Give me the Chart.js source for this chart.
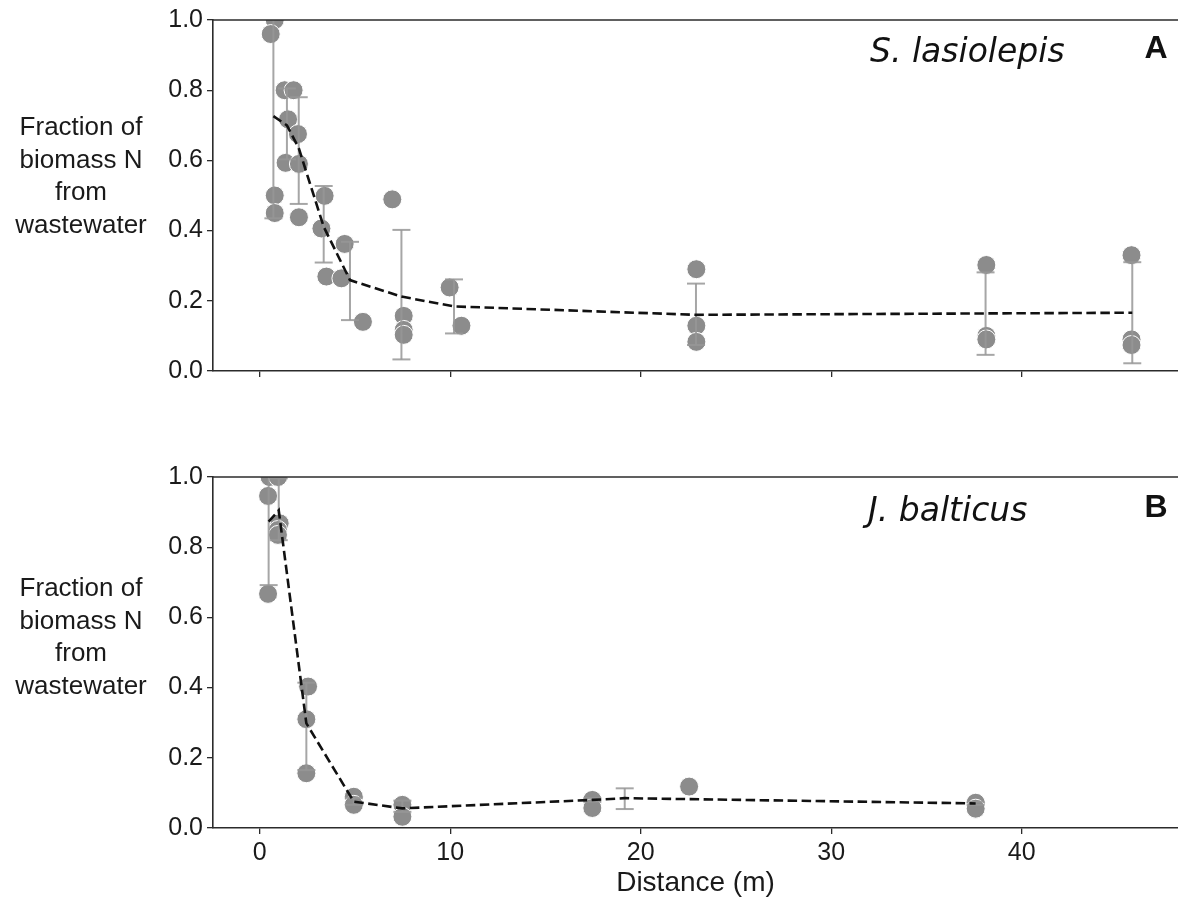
<!DOCTYPE html>
<html>
<head>
<meta charset="utf-8">
<script src="https://cdn.jsdelivr.net/npm/chart.js@4.4.1/dist/chart.umd.min.js"></script>
<style>
  html, body { margin: 0; padding: 0; background: #ffffff; }
  #wrap { position: relative; width: 1178px; height: 901px; overflow: hidden; }
  canvas { position: absolute; left: 0; }
  #panelA { top: 0; }
  #panelB { top: 440px; }
</style>
</head>
<body>
<div id="wrap">
  <canvas id="panelA" width="1178" height="400"></canvas>
  <canvas id="panelB" width="1178" height="461"></canvas>
</div>
<script>
// ---- Tick labels ----
const distanceTicks = [0, 10, 20, 30, 40];
const fractionTicks = [0.0, 0.2, 0.4, 0.6, 0.8, 1.0];
const yLabelLines = ['Fraction of', 'biomass N', 'from', 'wastewater'];
const xLabel = 'Distance (m)';

// ---- Panel A: S. lasiolepis ----
const aSampleDist = [0.79, 0.58, 0.79, 0.79, 1.31, 1.78, 1.49, 2.01, 1.36, 2.06, 2.06,
                     3.41, 3.24, 3.50, 4.46, 4.29, 5.42, 6.96, 7.56, 7.56, 7.56,
                     9.97, 10.59, 22.92, 22.92, 22.92, 38.14, 38.14, 38.14, 45.76, 45.76, 45.76];
const aSampleFrac = [1.00, 0.96, 0.50, 0.45, 0.80, 0.80, 0.717, 0.675, 0.593, 0.59, 0.438,
                     0.499, 0.406, 0.269, 0.362, 0.264, 0.140, 0.489, 0.157, 0.117, 0.103,
                     0.238, 0.129, 0.29, 0.129, 0.083, 0.302, 0.10, 0.09, 0.33, 0.09, 0.074];
const aGroupDist = [0.72, 1.43, 2.05, 3.36, 4.74, 7.44, 10.2, 22.9, 38.1, 45.8];
const aGroupMean = [0.726, 0.70, 0.635, 0.411, 0.259, 0.212, 0.184, 0.16, 0.164, 0.166];
const aGroupLow  = [0.435, 0.603, 0.476, 0.309, 0.145, 0.033, 0.107, 0.074, 0.046, 0.022];
const aGroupHigh = [1.017, 0.805, 0.78, 0.527, 0.368, 0.402, 0.261, 0.249, 0.281, 0.31];

// ---- Panel B: J. balticus ----
const bSampleDist = [0.52, 0.96, 0.44, 1.05, 0.96, 0.96, 0.44, 2.54, 2.45, 2.45,
                     4.94, 4.94, 7.49, 7.49, 17.46, 17.46, 22.54, 37.58, 37.58];
const bSampleFrac = [1.00, 1.00, 0.946, 0.868, 0.849, 0.835, 0.667, 0.403, 0.31, 0.156,
                     0.089, 0.066, 0.066, 0.032, 0.08, 0.057, 0.118, 0.072, 0.055];
const bGroupDist = [0.47, 1.0, 2.45, 4.94, 7.49, 17.46, 19.16, 37.58];
const bGroupMean = [0.873, 0.905, 0.298, 0.075, 0.056, 0.08, 0.085, 0.07];
const bGroupLow  = [0.692, 0.82, 0.165, 0.066, 0.046, 0.075, 0.054, 0.066];
const bGroupHigh = [1.054, 0.996, 0.414, 0.086, 0.078, 0.085, 0.113, 0.075];

// ---- Styling ----
const SANS = '"Liberation Sans", Arial, sans-serif';
const AXIS_COLOR = '#2b2b2b';
const POINT_COLOR = '#8c8c8c';
const ERR_COLOR = 'rgba(150,150,150,0.85)';
const X_MIN = -2.45, X_MAX = 48.2;

function toXY(xs, ys) {
  return xs.map((x, i) => ({ x: x, y: ys[i] }));
}

// vertical whiskers separated by gaps; the 'line' point style gives the caps
function whiskers(xs, lows, highs) {
  const out = [];
  xs.forEach((x, i) => {
    out.push({ x: x, y: lows[i] });
    out.push({ x: x, y: highs[i] });
    out.push({ x: x, y: null });
  });
  return out;
}

// axes frame decorations, multi-line y label and panel captions
const panelDecor = {
  id: 'panelDecor',
  afterDraw(chart, args, opts) {
    const { ctx, chartArea } = chart;
    ctx.save();
    // top spine
    ctx.strokeStyle = AXIS_COLOR;
    ctx.lineWidth = 1.6;
    ctx.beginPath();
    ctx.moveTo(chartArea.left - 0.8, chartArea.top);
    ctx.lineTo(chartArea.right, chartArea.top);
    ctx.stroke();
    // y label
    ctx.fillStyle = '#1a1a1a';
    ctx.font = '26px ' + SANS;
    ctx.textAlign = 'center';
    ctx.textBaseline = 'middle';
    yLabelLines.forEach((line, i) => {
      ctx.fillText(line, 81, chartArea.top + opts.labelOffset + i * 32.5);
    });
    // species name
    ctx.font = 'italic 33px "DejaVu Sans"';
    ctx.textAlign = 'left';
    ctx.textBaseline = 'alphabetic';
    ctx.fillStyle = '#111111';
    ctx.fillText(opts.species, opts.speciesX, chartArea.top + opts.speciesBase);
    // panel letter
    ctx.font = 'bold 32px ' + SANS;
    ctx.textAlign = 'center';
    ctx.fillText(opts.letter, 1156, chartArea.top + opts.letterBase);
    ctx.restore();
  }
};

function makePanel(canvasId, cfg) {
  const H = document.getElementById(canvasId).height;
  return new Chart(document.getElementById(canvasId), {
    type: 'scatter',
    data: {
      datasets: [
        {
          label: 'mean',
          data: toXY(cfg.groupDist, cfg.groupMean),
          showLine: true,
          borderColor: '#111111',
          borderWidth: 2.6,
          borderDash: [9.5, 4.5],
          pointRadius: 0,
          tension: 0
        },
        {
          label: 'sd',
          data: whiskers(cfg.groupDist, cfg.groupLow, cfg.groupHigh),
          showLine: true,
          spanGaps: false,
          borderColor: ERR_COLOR,
          borderWidth: 2,
          pointStyle: 'line',
          pointRadius: 9,
          pointBorderColor: ERR_COLOR,
          pointBorderWidth: 2
        },
        {
          label: 'samples',
          data: toXY(cfg.sampleDist, cfg.sampleFrac),
          pointRadius: 9.5,
          pointBackgroundColor: POINT_COLOR,
          pointBorderColor: '#ffffff',
          pointBorderWidth: 1
        }
      ]
    },
    options: {
      responsive: false,
      animation: false,
      events: [],
      layout: { autoPadding: false, padding: { top: cfg.padTop, left: 0, right: 0, bottom: 0 } },
      plugins: {
        legend: { display: false },
        tooltip: { enabled: false },
        panelDecor: {
          species: cfg.species, speciesX: cfg.speciesX, speciesBase: cfg.speciesBase,
          letter: cfg.letter, letterBase: cfg.letterBase, labelOffset: cfg.labelOffset
        }
      },
      scales: {
        x: {
          type: 'linear',
          min: X_MIN,
          max: X_MAX,
          afterBuildTicks(scale) { scale.ticks = distanceTicks.map(v => ({ value: v })); },
          afterFit(scale) { scale.height = H - cfg.bottomY; },
          border: { display: true, color: AXIS_COLOR, width: 1.6 },
          grid: { display: true, drawOnChartArea: false, drawTicks: true, tickLength: 6,
                  color: AXIS_COLOR, lineWidth: 1.3 },
          ticks: {
            display: cfg.showXLabels,
            color: '#1a1a1a',
            font: { family: SANS, size: 25 },
            padding: 4,
            maxRotation: 0,
            callback: v => String(v)
          },
          title: {
            display: cfg.showXLabels,
            text: xLabel,
            color: '#1a1a1a',
            font: { family: SANS, size: 28 },
            padding: { top: 0, bottom: 1 }
          }
        },
        y: {
          type: 'linear',
          min: 0,
          max: 1,
          afterBuildTicks(scale) { scale.ticks = fractionTicks.map(v => ({ value: v })); },
          afterFit(scale) { scale.width = 213; },
          border: { display: true, color: AXIS_COLOR, width: 1.6 },
          grid: { display: true, drawOnChartArea: false, drawTicks: true, tickLength: 6,
                  color: AXIS_COLOR, lineWidth: 1.3 },
          ticks: {
            color: '#1a1a1a',
            font: { family: SANS, size: 25 },
            padding: 4,
            callback: v => Number(v).toFixed(1)
          }
        }
      }
    },
    plugins: [panelDecor]
  });
}

makePanel('panelA', {
  sampleDist: aSampleDist, sampleFrac: aSampleFrac,
  groupDist: aGroupDist, groupMean: aGroupMean, groupLow: aGroupLow, groupHigh: aGroupHigh,
  padTop: 20, bottomY: 371, showXLabels: false,
  species: 'S. lasiolepis', speciesX: 870, speciesBase: 42,
  letter: 'A', letterBase: 38, labelOffset: 108
});

makePanel('panelB', {
  sampleDist: bSampleDist, sampleFrac: bSampleFrac,
  groupDist: bGroupDist, groupMean: bGroupMean, groupLow: bGroupLow, groupHigh: bGroupHigh,
  padTop: 37, bottomY: 388, showXLabels: true,
  species: 'J. balticus', speciesX: 868, speciesBase: 44,
  letter: 'B', letterBase: 40, labelOffset: 112
});
</script>
</body>
</html>
